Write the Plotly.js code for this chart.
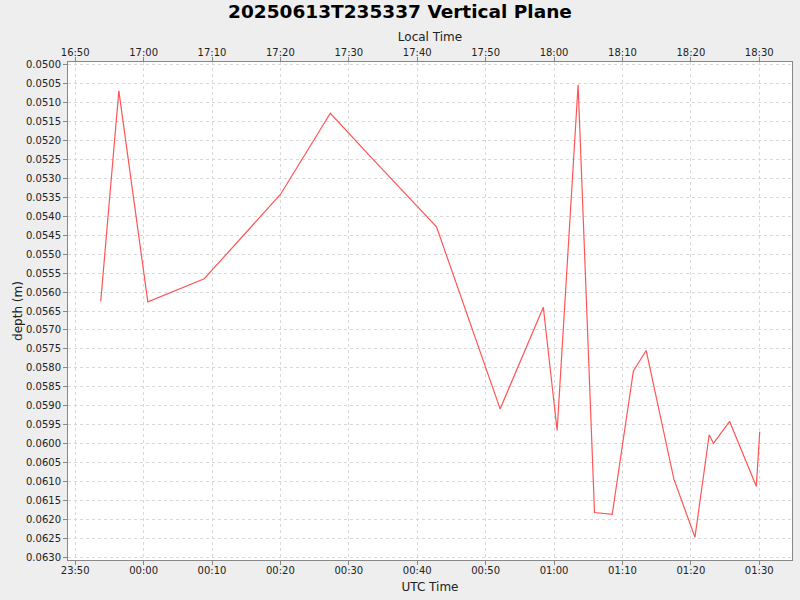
<!DOCTYPE html>
<html>
<head>
<meta charset="utf-8">
<script src="https://cdn.plot.ly/plotly-3.0.1.min.js"></script>
<style>
  html, body { margin: 0; padding: 0; background: #eeeeee; }
  #chart { width: 800px; height: 600px; }
</style>
</head>
<body>
<div id="chart"></div>
<script>
// UTC sample times and depth readings
var utcTimes = [
  '2025-06-13 23:53:44', '2025-06-13 23:56:23', '2025-06-14 00:00:37',
  '2025-06-14 00:08:52', '2025-06-14 00:20:00', '2025-06-14 00:27:18',
  '2025-06-14 00:33:18', '2025-06-14 00:42:49', '2025-06-14 00:52:07',
  '2025-06-14 00:58:26', '2025-06-14 01:00:27', '2025-06-14 01:03:31',
  '2025-06-14 01:05:55', '2025-06-14 01:08:30', '2025-06-14 01:11:36',
  '2025-06-14 01:13:28', '2025-06-14 01:17:31', '2025-06-14 01:20:36',
  '2025-06-14 01:22:41', '2025-06-14 01:23:18', '2025-06-14 01:25:40',
  '2025-06-14 01:29:34', '2025-06-14 01:30:04'
];
var depth = [
  0.05625, 0.05070, 0.05626,
  0.05565, 0.05343, 0.05129,
  0.05246, 0.05428, 0.05908,
  0.05640, 0.05965, 0.05054,
  0.06181, 0.06186, 0.05808,
  0.05754, 0.06093, 0.06246,
  0.05976, 0.05999, 0.05941,
  0.06112, 0.05968
];
var utcOffsetHours = -7;

var xRangeUtc = ['2025-06-13 23:48:57', '2025-06-14 01:34:47'];
var yRange = [0.063061, 0.049939];

function shift(s, hours) {
  var d = new Date(s.replace(' ', 'T') + 'Z');
  d = new Date(d.getTime() + hours * 3600000);
  return d.toISOString().slice(0, 19).replace('T', ' ');
}
var localTimes = utcTimes.map(function (t) { return shift(t, utcOffsetHours); });
var xRangeLocal = xRangeUtc.map(function (t) { return shift(t, utcOffsetHours); });

var FONT = 'DejaVu Sans, sans-serif';
var GRID = '#d9d9d9';

var depthLine = {
  x: utcTimes, y: depth,
  type: 'scatter', mode: 'lines',
  line: { color: '#ff5555', width: 1.2 },
  xaxis: 'x', yaxis: 'y',
  hoverinfo: 'x+y'
};
var localLine = {
  x: localTimes, y: depth,
  type: 'scatter', mode: 'lines',
  line: { color: 'rgba(0,0,0,0)', width: 0 },
  xaxis: 'x2', yaxis: 'y',
  hoverinfo: 'skip', showlegend: false
};

var axisCommon = {
  type: 'date',
  tickformat: '%H:%M',
  dtick: 600000,
  ticks: 'outside', ticklen: 4, tickcolor: '#888888',
  ticklabelstandoff: -3,
  showline: true, linecolor: '#888888', linewidth: 1,
  showgrid: true, gridcolor: GRID, griddash: '3px,3px', gridwidth: 1,
  zeroline: false,
  tickfont: { family: FONT, size: 10, color: '#222222' }
};

var layout = {
  width: 800, height: 600,
  paper_bgcolor: '#eeeeee',
  plot_bgcolor: '#ffffff',
  showlegend: false,
  margin: { l: 68, r: 8, t: 62, b: 40 },
  title: {
    text: '<b>20250613T235337 Vertical Plane</b>',
    font: { family: FONT, size: 18.5, color: '#000000' },
    x: 0.5, xanchor: 'center',
    yref: 'container', y: 1 - 12 / 600, yanchor: 'middle'
  },
  xaxis: Object.assign({}, axisCommon, {
    range: xRangeUtc,
    tick0: '2025-06-13 23:50:00',
    side: 'bottom',
    title: { text: 'UTC Time', font: { family: FONT, size: 12, color: '#222222' }, standoff: 7 }
  }),
  xaxis2: Object.assign({}, axisCommon, {
    range: xRangeLocal,
    tick0: '2025-06-13 16:50:00',
    overlaying: 'x', side: 'top',
    showgrid: false,
    title: { text: 'Local Time', font: { family: FONT, size: 12, color: '#222222' }, standoff: 2 }
  }),
  yaxis: {
    range: yRange,
    dtick: 0.0005, tick0: 0.05,
    tickformat: '.4f',
    ticks: 'outside', ticklen: 4, tickcolor: '#888888',
    showline: true, linecolor: '#888888', linewidth: 1, mirror: true,
    showgrid: true, gridcolor: GRID, griddash: '3px,3px', gridwidth: 1,
    zeroline: false,
    tickfont: { family: FONT, size: 10, color: '#222222' },
    title: { text: 'depth (m)', font: { family: FONT, size: 12, color: '#222222' }, standoff: 0 }
  }
};

Plotly.newPlot('chart', [depthLine, localLine], layout, { displayModeBar: false, staticPlot: true });
</script>
</body>
</html>
